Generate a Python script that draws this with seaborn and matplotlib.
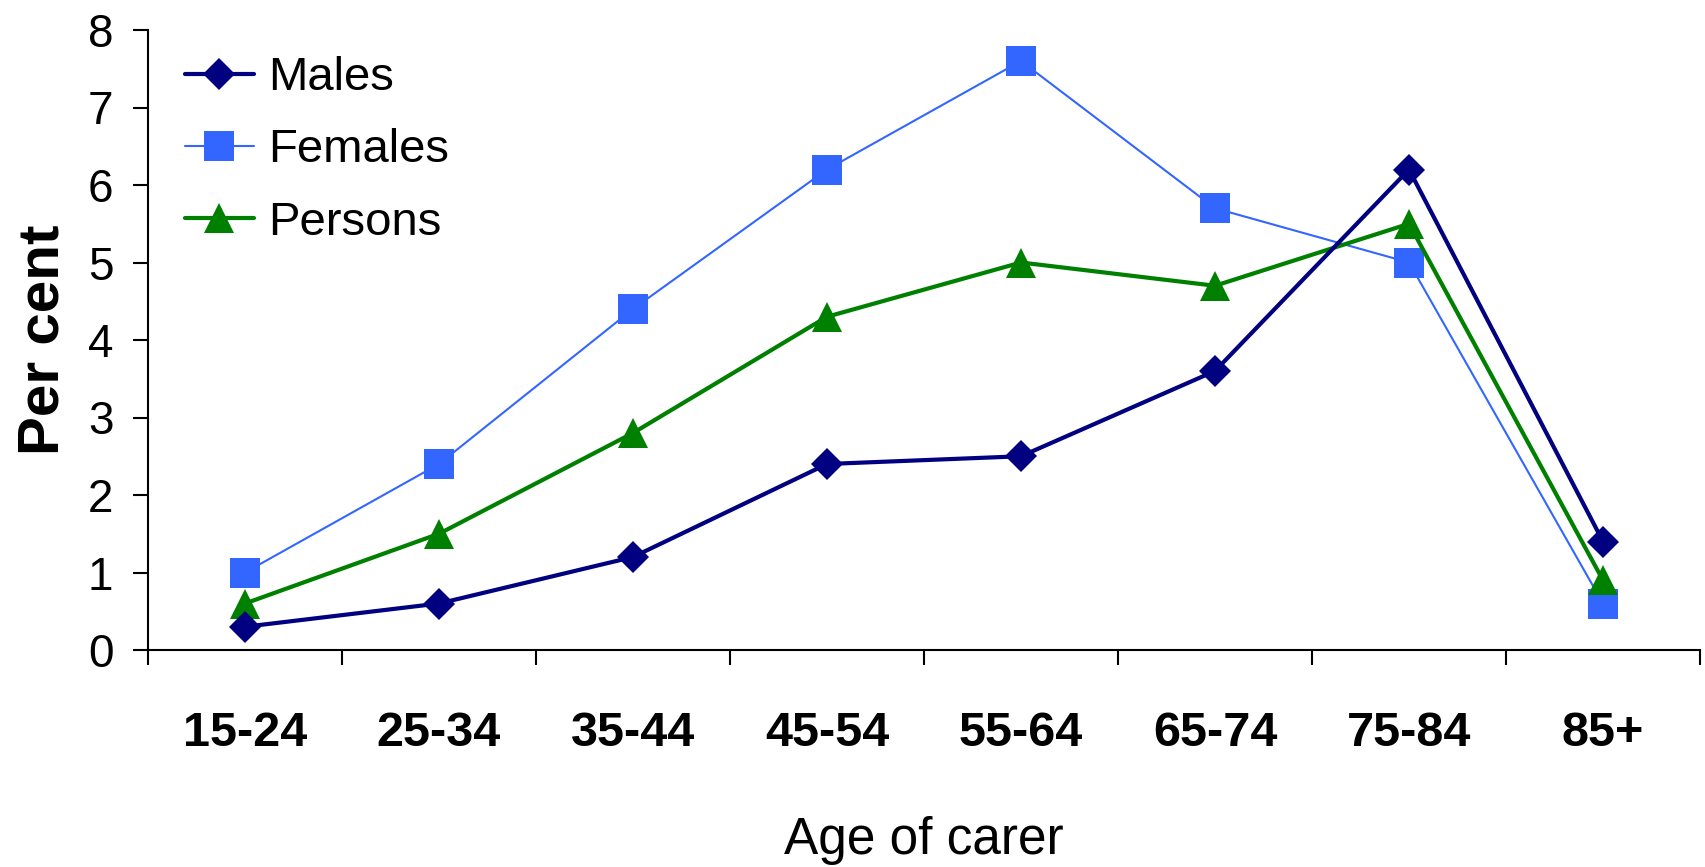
import numpy as np
import pandas as pd
import seaborn as sns
import matplotlib.pyplot as plt

# Datos
AGES = ["15-24", "25-34", "35-44", "45-54", "55-64", "65-74", "75-84", "85+"]
MALES = [0.3, 0.6, 1.2, 2.4, 2.5, 3.6, 6.2, 1.4]
FEMALES = [1.0, 2.4, 4.4, 6.2, 7.6, 5.7, 5.0, 0.6]
PERSONS = [0.6, 1.5, 2.8, 4.3, 5.0, 4.7, 5.5, 0.9]
SERIES = ["Males", "Females", "Persons"]
Y_TICKS = [0, 1, 2, 3, 4, 5, 6, 7, 8]

STYLE = {
    "Males": dict(color="#000080", marker="D", markersize=16, linewidth=3.0, zorder=4),
    "Females": dict(color="#3366FF", marker="s", markersize=21, linewidth=1.5, zorder=2),
    "Persons": dict(color="#008000", marker="^", markersize=22, linewidth=3.0, zorder=3),
}

df = pd.DataFrame({
    "Age": AGES * 3,
    "Per cent": MALES + FEMALES + PERSONS,
    "Serie": [s for s in SERIES for _ in AGES],
})

sns.set_style("ticks")
plt.rcParams["font.family"] = ["Liberation Sans", "DejaVu Sans"]
plt.rcParams["text.color"] = "black"
plt.rcParams["axes.labelcolor"] = "black"
plt.rcParams["xtick.color"] = "black"
plt.rcParams["ytick.color"] = "black"

fig = plt.figure(figsize=(17.05, 8.67), dpi=100)
ax = fig.add_axes([148 / 1705, 1 - 650 / 867, 1552 / 1705, 620 / 867])

for s in SERIES:
    st = STYLE[s]
    sns.lineplot(data=df[df["Serie"] == s], x="Age", y="Per cent", ax=ax,
                 color=st["color"], marker=st["marker"], markersize=st["markersize"],
                 markeredgewidth=0, linewidth=st["linewidth"], zorder=st["zorder"],
                 label=s, sort=False)

ax.set_xlim(-0.5, len(AGES) - 0.5)
ax.set_ylim(0, 8)
ax.set_yticks(Y_TICKS)
ax.set_yticklabels([str(v) for v in Y_TICKS], fontsize=33)
ax.set_xticks(range(len(AGES)))
ax.set_xticklabels(AGES, fontsize=35, fontweight="bold")
ax.set_xticks(np.arange(-0.5, len(AGES), 1), minor=True)
ax.tick_params(axis="x", which="major", length=0, pad=44)
ax.tick_params(axis="x", which="minor", length=11, width=1.5, direction="out")
ax.tick_params(axis="y", length=11, width=1.5, pad=14)

sns.despine(ax=ax)
for sp in ["left", "bottom"]:
    ax.spines[sp].set_linewidth(1.5)
    ax.spines[sp].set_color("black")

ax.set_xlabel("Age of carer", fontsize=37)
ax.xaxis.set_label_coords(0.5, -0.268)
ax.set_ylabel("Per cent", fontsize=42, fontweight="bold")
ax.yaxis.set_label_coords(-0.05, 0.5)

ax.legend(loc="upper left", bbox_to_anchor=(0.024, 0.958), frameon=False, fontsize=34,
          handlelength=1.45, handletextpad=0.3, labelspacing=0.6, borderpad=0, borderaxespad=0)

fig.savefig("out.png", dpi=100)
